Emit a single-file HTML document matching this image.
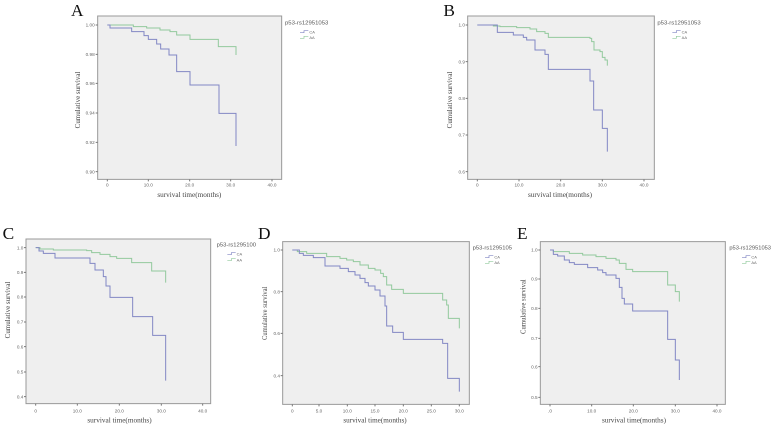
<!DOCTYPE html>
<html><head><meta charset="utf-8"><style>
html,body{margin:0;padding:0;background:#fff;}
svg{display:block;}
.box{fill:#efefef;stroke:#999;}
.tl{font-family:"Liberation Sans",sans-serif;font-size:14px;fill:#666;}
.ttl{font-family:"Liberation Serif",serif;font-size:23px;fill:#444;}
.lg{font-family:"Liberation Sans",sans-serif;font-size:16px;fill:#555;}
.lgs{font-family:"Liberation Sans",sans-serif;font-size:12px;fill:#666;}
.let{font-family:"Liberation Serif",serif;font-size:52px;fill:#111;}
.b{fill:none;stroke:#8287c4;stroke-width:1;vector-effect:non-scaling-stroke;}
.g{fill:none;stroke:#92c99d;stroke-width:1;vector-effect:non-scaling-stroke;}
.lb{fill:none;stroke:#8287c4;stroke-width:0.7;vector-effect:non-scaling-stroke;}
.lgn{fill:none;stroke:#92c99d;stroke-width:0.7;vector-effect:non-scaling-stroke;}
.r{vector-effect:non-scaling-stroke;stroke-width:1;}
</style></head><body>
<svg width="776" height="426" viewBox="0 0 776 426" xmlns="http://www.w3.org/2000/svg">
<rect width="776" height="426" fill="#fff"/>

<!-- Panel A -->
<g transform="scale(0.33333)">
<text class="let" x="213" y="48">A</text>
<rect class="box r" x="293" y="48" width="552" height="490"/>
<path class="r" d="M287,75H293M287,163H293M287,250H293M287,339H293M287,427H293M287,515H293" stroke="#777"/>
<path class="r" d="M322,538V544M445,538V544M569,538V544M692,538V544M816,538V544" stroke="#777"/>
<g class="tl" text-anchor="end">
<text x="284" y="80">1.00</text><text x="284" y="168">0.98</text><text x="284" y="255">0.96</text>
<text x="284" y="344">0.94</text><text x="284" y="432">0.92</text><text x="284" y="520">0.90</text>
</g>
<g class="tl" text-anchor="middle">
<text x="322" y="560">0</text><text x="445" y="560">10.0</text><text x="569" y="560">20.0</text><text x="692" y="560">30.0</text><text x="816" y="560">40.0</text>
</g>
<text class="ttl" x="472" y="591" textLength="192" lengthAdjust="spacingAndGlyphs">survival time(months)</text>
<text class="ttl" transform="translate(240,300) rotate(-90)" x="-85" y="0" textLength="170" lengthAdjust="spacingAndGlyphs">Cumulative survival</text>
<text class="lg" x="855" y="73" textLength="130" lengthAdjust="spacingAndGlyphs">p53-rs12951053</text>
<path class="lb" d="M900,98H912V92H925"/><text class="lgs" x="928" y="100">CA</text>
<path class="lgn" d="M900,115H912V109H925"/><text class="lgs" x="928" y="117">AA</text>
<path class="g" d="M322,75H400V80H440V84H480V90H510V95H530V105H570V118H655V140H708V165"/>
<path class="b" d="M322,75H330V84H395V95H432V107H445V118H470V132H482V147H507V165H530V215H570V255H657V340H708V438"/>
</g>

<!-- Panel B -->
<g transform="translate(390,0) scale(0.33333)">
<text class="let" x="160" y="48">B</text>
<rect class="box r" x="233" y="48" width="560" height="490"/>
<path class="r" d="M227,75H233M227,185H233M227,295H233M227,405H233M227,515H233" stroke="#777"/>
<path class="r" d="M262,538V544M387,538V544M512,538V544M637,538V544M762,538V544" stroke="#777"/>
<g class="tl" text-anchor="end">
<text x="225" y="80">1.0</text><text x="225" y="190">0.9</text><text x="225" y="300">0.8</text><text x="225" y="410">0.7</text><text x="225" y="520">0.6</text>
</g>
<g class="tl" text-anchor="middle">
<text x="262" y="560">0</text><text x="387" y="560">10.0</text><text x="512" y="560">20.0</text><text x="637" y="560">30.0</text><text x="762" y="560">40.0</text>
</g>
<text class="ttl" x="414" y="591" textLength="192" lengthAdjust="spacingAndGlyphs">survival time(months)</text>
<text class="ttl" transform="translate(186,300) rotate(-90)" x="-85" y="0" textLength="170" lengthAdjust="spacingAndGlyphs">Cumulative survival</text>
<text class="lg" x="802" y="73" textLength="130" lengthAdjust="spacingAndGlyphs">p53-rs12951053</text>
<path class="lb" d="M847,98H859V92H872"/><text class="lgs" x="875" y="100">CA</text>
<path class="lgn" d="M847,115H859V109H872"/><text class="lgs" x="875" y="117">AA</text>
<path class="g" d="M262,75H310V78H330V80H380V83H420V87H440V95H465V100H475V112H600V115H605V125H612V150H630V155H637V172H645V180H652V197"/>
<path class="b" d="M262,75H322V97H370V105H400V112H410V120H435V150H465V163H475V208H600V243H611V330H637V385H652V455"/>
</g>

<!-- Panel C -->
<g transform="translate(0,210) scale(0.33333)">
<text class="let" x="8" y="87">C</text>
<rect class="box r" x="78" y="87" width="554" height="494"/>
<path class="r" d="M72,113H78M72,187H78M72,261H78M72,336H78M72,410H78M72,486H78M72,560H78" stroke="#777"/>
<path class="r" d="M107,581V587M232,581V587M358,581V587M484,581V587M608,581V587" stroke="#777"/>
<g class="tl" text-anchor="end">
<text x="70" y="118">1.0</text><text x="70" y="192">0.9</text><text x="70" y="266">0.8</text><text x="70" y="341">0.7</text>
<text x="70" y="415">0.6</text><text x="70" y="491">0.5</text><text x="70" y="565">0.4</text>
</g>
<g class="tl" text-anchor="middle">
<text x="107" y="608">0</text><text x="232" y="608">10.0</text><text x="358" y="608">20.0</text><text x="484" y="608">30.0</text><text x="608" y="608">40.0</text>
</g>
<text class="ttl" x="262" y="638" textLength="193" lengthAdjust="spacingAndGlyphs">survival time(months)</text>
<text class="ttl" transform="translate(30,300) rotate(-90)" x="-85" y="0" textLength="170" lengthAdjust="spacingAndGlyphs">Cumulative survival</text>
<text class="lg" x="650" y="109" textLength="118" lengthAdjust="spacingAndGlyphs">p53-rs1295100</text>
<path class="lb" d="M682,134H694V128H707"/><text class="lgs" x="710" y="136">CA</text>
<path class="lgn" d="M682,152H694V146H707"/><text class="lgs" x="710" y="154">AA</text>
<path class="g" d="M107,113H120V117H160V120H260V122H275V128H300V133H330V140H350V145H395V158H455V183H497V218"/>
<path class="b" d="M107,113H117V123H130V130H165V144H270V160H285V180H310V200H318V228H330V262H398V320H458V376H497V512"/>
</g>

<!-- Panel D -->
<g transform="translate(260,210) scale(0.33333)">
<text class="let" x="-6" y="87">D</text>
<rect class="box r" x="68" y="95" width="560" height="488"/>
<path class="r" d="M62,120H68M62,245H68M62,370H68M62,497H68" stroke="#777"/>
<path class="r" d="M97,583V589M177,583V589M262,583V589M345,583V589M430,583V589M514,583V589M598,583V589" stroke="#777"/>
<g class="tl" text-anchor="end">
<text x="60" y="125">1.0</text><text x="60" y="250">0.8</text><text x="60" y="375">0.6</text><text x="60" y="502">0.4</text>
</g>
<g class="tl" text-anchor="middle">
<text x="97" y="608">0</text><text x="177" y="608">5.0</text><text x="262" y="608">10.0</text><text x="345" y="608">15.0</text>
<text x="430" y="608">20.0</text><text x="514" y="608">25.0</text><text x="598" y="608">30.0</text>
</g>
<text class="ttl" x="250" y="638" textLength="190" lengthAdjust="spacingAndGlyphs">survival time(months)</text>
<text class="ttl" transform="translate(21,310) rotate(-90)" x="-80" y="0" textLength="160" lengthAdjust="spacingAndGlyphs">Cumulative survival</text>
<text class="lg" x="638" y="118" textLength="118" lengthAdjust="spacingAndGlyphs">p53-rs1295105</text>
<path class="lb" d="M675,143H687V137H700"/><text class="lgs" x="703" y="145">CA</text>
<path class="lgn" d="M675,160H687V154H700"/><text class="lgs" x="703" y="162">AA</text>
<path class="g" d="M97,120H112V125H140V130H200V140H240V145H260V150H280V155H300V165H325V175H345V180H362V190H370V200H380V225H395V238H430V250H548V270H560V285H565V325H598V355"/>
<path class="b" d="M97,120H118V130H130V136H160V143H195V168H240V175H265V185H285V195H300V205H315V218H325V228H345V240H360V258H375V288H380V348H398V367H430V388H548V400H563V505H598V545"/>
</g>

<!-- Panel E -->
<g transform="translate(516,210) scale(0.33333)">
<text class="let" x="3" y="87">E</text>
<rect class="box r" x="73" y="95" width="555" height="488"/>
<path class="r" d="M67,120H73M67,207H73M67,295H73M67,385H73M67,470H73M67,562H73" stroke="#777"/>
<path class="r" d="M102,583V589M227,583V589M352,583V589M478,583V589M603,583V589" stroke="#777"/>
<g class="tl" text-anchor="end">
<text x="65" y="125">1.0</text><text x="65" y="212">0.9</text><text x="65" y="300">0.8</text><text x="65" y="390">0.7</text>
<text x="65" y="475">0.6</text><text x="65" y="567">0.5</text>
</g>
<g class="tl" text-anchor="middle">
<text x="102" y="608">.0</text><text x="227" y="608">10.0</text><text x="352" y="608">20.0</text><text x="478" y="608">30.0</text><text x="603" y="608">40.0</text>
</g>
<text class="ttl" x="258" y="638" textLength="192" lengthAdjust="spacingAndGlyphs">survival time(months)</text>
<text class="ttl" transform="translate(28,290) rotate(-90)" x="-82" y="0" textLength="164" lengthAdjust="spacingAndGlyphs">Cumulative survival</text>
<text class="lg" x="640" y="118" textLength="125" lengthAdjust="spacingAndGlyphs">p53-rs12951053</text>
<path class="lb" d="M678,143H690V137H703"/><text class="lgs" x="706" y="145">CA</text>
<path class="lgn" d="M678,160H690V154H703"/><text class="lgs" x="706" y="162">AA</text>
<path class="g" d="M102,120H112V125H160V130H200V135H240V140H270V145H300V150H310V160H330V178H350V185H455V225H478V245H490V275"/>
<path class="b" d="M102,120H112V133H125V138H145V150H160V158H175V163H215V173H245V180H260V188H270V195H300V205H310V232H318V265H325V282H350V303H455V388H478V450H490V510"/>
</g>
</svg>
</body></html>
